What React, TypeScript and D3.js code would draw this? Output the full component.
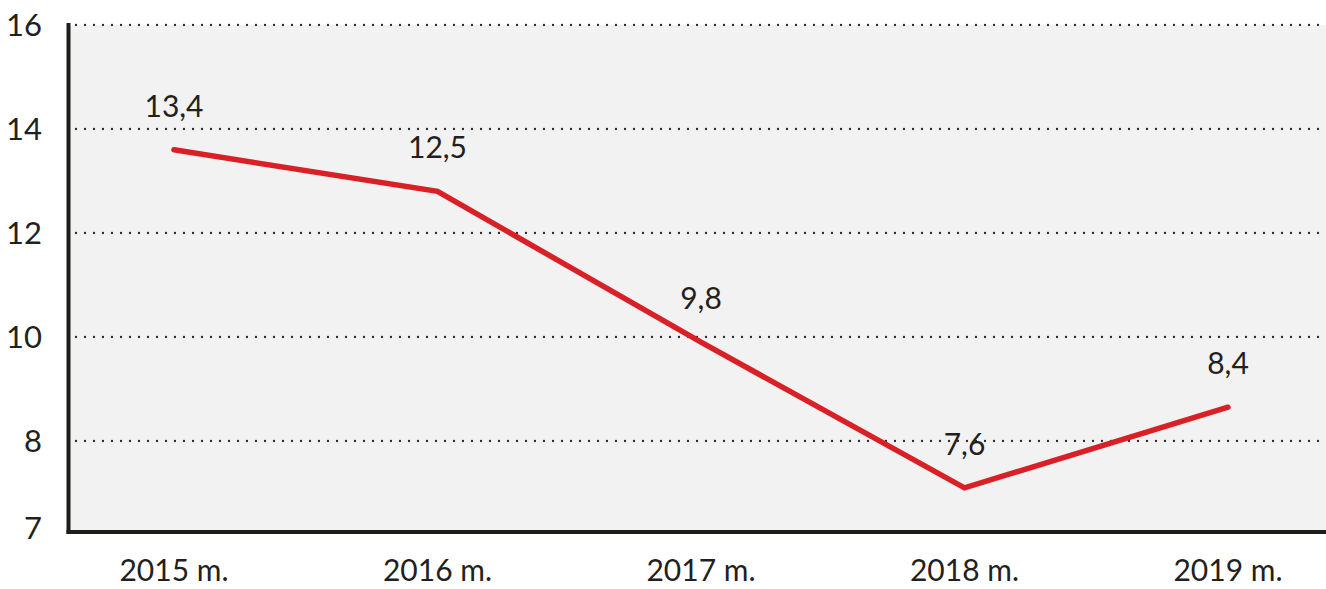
import React, { useEffect, useRef } from "react";
import * as d3 from "d3";

// categories
const years = ["2015 m.", "2016 m.", "2017 m.", "2018 m.", "2019 m."];
// where the line is drawn
const values = [13.6, 12.8, 9.9, 7.1, 8.65];
// labels as printed on the chart
const valueLabels = ["13,4", "12,5", "9,8", "7,6", "8,4"];
// y ticks with dotted grid lines
const gridTicks = [8, 10, 12, 14, 16];
const gridTickLabels = ["8", "10", "12", "14", "16"];
// bottom label sits on the x axis
const bottomTickLabel = "7";

const width = 1326;
const height = 589;
const margin = { top: 25, right: 0, bottom: 57, left: 67 };
const FONT = "Lato, 'Open Sans', sans-serif";
const TEXT = "#231f20";

function App() {
    const svgRef = useRef<SVGSVGElement>(null);

    useEffect(() => {
        const svg = d3.select(svgRef.current);
        svg.selectAll("*").remove();

        const plotBottom = height - margin.bottom;
        const x = d3.scalePoint<string>().domain(years).range([174, 1228]);
        const y = d3.scaleLinear().domain([6.25, 16]).range([plotBottom, margin.top]);

        // gray plot background
        svg.append("rect")
            .attr("x", margin.left)
            .attr("y", margin.top)
            .attr("width", width - margin.left)
            .attr("height", plotBottom - margin.top)
            .attr("fill", "#f2f2f2");

        // dotted grid
        svg.selectAll("line.grid")
            .data(gridTicks)
            .join("line")
            .attr("class", "grid")
            .attr("x1", margin.left + 9)
            .attr("x2", width)
            .attr("y1", (d) => y(d))
            .attr("y2", (d) => y(d))
            .attr("stroke", "#222")
            .attr("stroke-width", 2.3)
            .attr("stroke-linecap", "round")
            .attr("stroke-dasharray", "0 9");

        // y tick labels
        svg.selectAll("text.ytick")
            .data(gridTicks)
            .join("text")
            .attr("class", "ytick")
            .attr("x", 42)
            .attr("y", (d) => y(d))
            .attr("dy", "0.36em")
            .attr("text-anchor", "end")
            .attr("font-family", FONT)
            .attr("font-size", 31)
            .attr("fill", TEXT)
            .text((d, i) => gridTickLabels[i]);

        svg.append("text")
            .attr("x", 42)
            .attr("y", plotBottom - 4)
            .attr("dy", "0.36em")
            .attr("text-anchor", "end")
            .attr("font-family", FONT)
            .attr("font-size", 31)
            .attr("fill", TEXT)
            .text(bottomTickLabel);

        // axes
        svg.append("line")
            .attr("x1", margin.left + 1.5).attr("x2", margin.left + 1.5)
            .attr("y1", margin.top - 2).attr("y2", plotBottom + 2)
            .attr("stroke", "#1d1d1b").attr("stroke-width", 4);
        svg.append("line")
            .attr("x1", margin.left - 0.5).attr("x2", width)
            .attr("y1", plotBottom).attr("y2", plotBottom)
            .attr("stroke", "#1d1d1b").attr("stroke-width", 4);

        // x labels
        svg.selectAll("text.xtick")
            .data(years)
            .join("text")
            .attr("class", "xtick")
            .attr("x", (d) => x(d) as number)
            .attr("y", 581)
            .attr("text-anchor", "middle")
            .attr("font-family", FONT)
            .attr("font-size", 30)
            .attr("fill", TEXT)
            .text((d) => d);

        // line
        const line = d3.line<number>()
            .x((d, i) => x(years[i]) as number)
            .y((d) => y(d));
        svg.append("path")
            .datum(values)
            .attr("d", line)
            .attr("fill", "none")
            .attr("stroke", "#da2027")
            .attr("stroke-width", 5.5)
            .attr("stroke-linejoin", "miter")
            .attr("stroke-linecap", "round");

        // value labels
        svg.selectAll("text.value")
            .data(values)
            .join("text")
            .attr("class", "value")
            .attr("x", (d, i) => x(years[i]) as number)
            .attr("y", (d) => y(d) - 33)
            .attr("text-anchor", "middle")
            .attr("font-family", FONT)
            .attr("font-size", 30)
            .attr("fill", TEXT)
            .text((d, i) => valueLabels[i]);
    }, []);

    return (
        <svg
            ref={svgRef}
            width={width}
            height={height}
            style={{ position: "absolute", left: 0, top: 0, background: "#fff" }}
        ></svg>
    );
}

export default App;
